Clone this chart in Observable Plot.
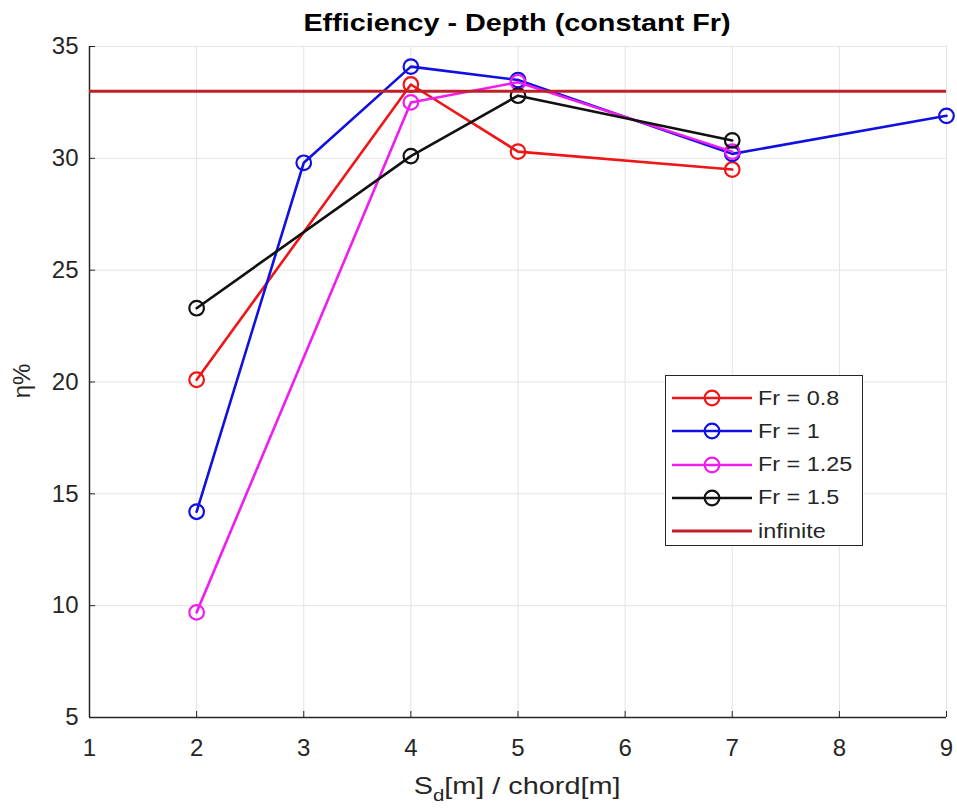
<!DOCTYPE html>
<html>
<head>
<meta charset="utf-8">
<script src="https://cdn.jsdelivr.net/npm/d3@7"></script>
<script src="https://cdn.jsdelivr.net/npm/@observablehq/plot@0.6"></script>
<style>
  body { margin: 0; background: #fff; }
  #wrap { position: relative; width: 957px; height: 811px; background: #fff; font-family: "Liberation Sans", Arial, sans-serif; color: #262626; }
  #wrap svg.plot { position: absolute; left: 0; top: 0; }
  .title { position: absolute; left: 89px; width: 857px; text-align: center; top: 9px; font-size: 24px; font-weight: bold; color: #000; }
  .title span { display: inline-block; transform: scaleX(1.2); }
  .xlabel { position: absolute; left: 89px; width: 857px; text-align: center; top: 772px; font-size: 24px; }
  .xlabel span { display: inline-block; transform: scaleX(1.2); }
  .xlabel sub { font-size: 17px; vertical-align: -7px; }
  .ylabel { position: absolute; left: 22px; top: 381px; font-size: 24px; transform: translate(-50%, -50%) rotate(-90deg); white-space: nowrap; }
  .legend { position: absolute; left: 665px; top: 375px; width: 196px; height: 169px; border: 1px solid #262626; background: #fff; }
  .legend .row { position: absolute; left: 0; height: 30px; display: flex; align-items: center; }
  .legend .row span { font-size: 20px; display: inline-block; transform: scaleX(1.17); transform-origin: left center; margin-left: 2px; }
</style>
</head>
<body>
<div id="wrap"></div>
<script>
// ---- data ----
const titleText = "Efficiency - Depth (constant Fr)";
const xTicks = [1, 2, 3, 4, 5, 6, 7, 8, 9];
const yTicks = [5, 10, 15, 20, 25, 30, 35];

const fr08X = [2, 4, 5, 7];
const fr08Y = [20.1, 33.3, 30.3, 29.5];

const fr1X = [2, 3, 4, 5, 7, 9];
const fr1Y = [14.2, 29.8, 34.1, 33.5, 30.2, 31.9];

const fr125X = [2, 4, 5, 7];
const fr125Y = [9.7, 32.5, 33.4, 30.3];

const fr15X = [2, 4, 5, 7];
const fr15Y = [23.3, 30.1, 32.8, 30.8];

const infiniteValue = 33;

const seriesNames = ["Fr = 0.8", "Fr = 1", "Fr = 1.25", "Fr = 1.5"];
const seriesColors = ["#ee1616", "#1010e0", "#f01cf0", "#111111"];
const infiniteName = "infinite";
const infiniteColor = "#bf2029";

// ---- build ----
const toRows = (xs, ys) => xs.map((x, i) => ({x, y: ys[i]}));
const series = [
  toRows(fr08X, fr08Y),
  toRows(fr1X, fr1Y),
  toRows(fr125X, fr125Y),
  toRows(fr15X, fr15Y)
];

const W = 957, H = 811;
const mL = 89, mR = 11, mT = 46, mB = 94;
const innerW = W - mL - mR, innerH = H - mT - mB;
const axisColor = "#262626";

const marks = [
  Plot.gridX(xTicks, {stroke: "#e3e3e3", strokeOpacity: 1}),
  Plot.gridY(yTicks, {stroke: "#e3e3e3", strokeOpacity: 1}),
  Plot.tickX(xTicks, {x: d => d, stroke: axisColor, insetTop: innerH - 6}),
  Plot.tickY(yTicks, {y: d => d, stroke: axisColor, insetRight: innerW - 6}),
  Plot.ruleY([yTicks[0]], {stroke: axisColor, strokeWidth: 1.5}),
  Plot.ruleX([xTicks[0]], {stroke: axisColor, strokeWidth: 1.5}),
  Plot.axisX(xTicks, {tickSize: 0, tickPadding: 21, fontSize: 24, fill: axisColor, label: null}),
  Plot.axisY(yTicks, {tickSize: 0, tickPadding: 11, fontSize: 24, fill: axisColor, label: null})
];
series.forEach((rows, i) => {
  marks.push(Plot.line(rows, {x: "x", y: "y", stroke: seriesColors[i], strokeWidth: 2.6}));
  marks.push(Plot.dot(rows, {x: "x", y: "y", r: 7.3, stroke: seriesColors[i], strokeWidth: 2.2, fill: "none"}));
});
marks.push(Plot.ruleY([infiniteValue], {stroke: infiniteColor, strokeWidth: 3}));

const chart = Plot.plot({
  width: W, height: H,
  marginLeft: mL, marginRight: mR, marginTop: mT, marginBottom: mB,
  x: {domain: [xTicks[0], xTicks[xTicks.length - 1]]},
  y: {domain: [yTicks[0], yTicks[yTicks.length - 1]]},
  style: {fontFamily: "Liberation Sans, Arial, sans-serif", fontSize: "24px", background: "transparent", color: axisColor},
  marks
});
chart.classList.add("plot");

const wrap = document.getElementById("wrap");
wrap.appendChild(chart);

const t = document.createElement("div");
t.className = "title";
const ts = document.createElement("span");
ts.textContent = titleText;
t.appendChild(ts);
wrap.appendChild(t);

const xl = document.createElement("div");
xl.className = "xlabel";
xl.innerHTML = "<span>S<sub>d</sub>[m] / chord[m]</span>";
wrap.appendChild(xl);

const yl = document.createElement("div");
yl.className = "ylabel";
yl.textContent = "η%";
wrap.appendChild(yl);

// legend
const lg = document.createElement("div");
lg.className = "legend";
const entries = seriesNames.map((n, i) => ({name: n, color: seriesColors[i], marker: true}))
  .concat([{name: infiniteName, color: infiniteColor, marker: false}]);
entries.forEach((e, i) => {
  const row = document.createElement("div");
  row.className = "row";
  row.style.top = (7 + i * 33.3) + "px";
  const ns = "http://www.w3.org/2000/svg";
  const s = document.createElementNS(ns, "svg");
  s.setAttribute("width", 90); s.setAttribute("height", 30);
  const ln = document.createElementNS(ns, "line");
  ln.setAttribute("x1", 6); ln.setAttribute("x2", 86); ln.setAttribute("y1", 15); ln.setAttribute("y2", 15);
  ln.setAttribute("stroke", e.color); ln.setAttribute("stroke-width", e.marker ? 2.6 : 3);
  s.appendChild(ln);
  if (e.marker) {
    const c = document.createElementNS(ns, "circle");
    c.setAttribute("cx", 46); c.setAttribute("cy", 15); c.setAttribute("r", 7.3);
    c.setAttribute("fill", "none"); c.setAttribute("stroke", e.color); c.setAttribute("stroke-width", 2.2);
    s.appendChild(c);
  }
  row.appendChild(s);
  const sp = document.createElement("span");
  sp.textContent = e.name;
  row.appendChild(sp);
  lg.appendChild(row);
});
wrap.appendChild(lg);
</script>
</body>
</html>
